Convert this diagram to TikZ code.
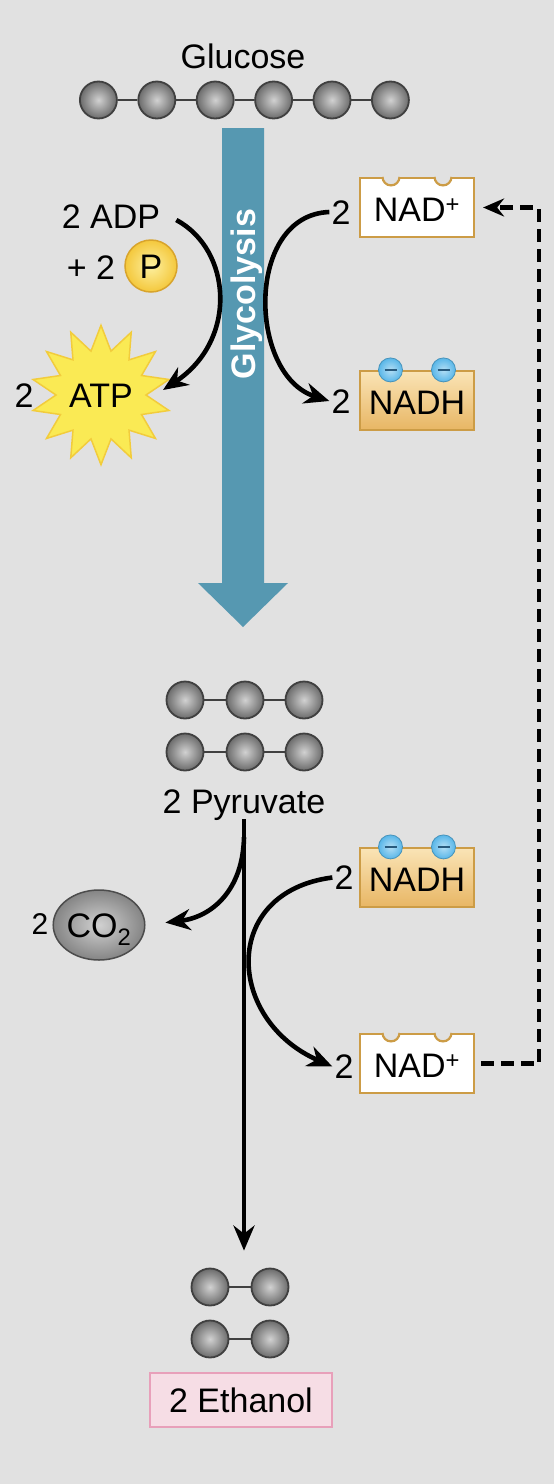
\documentclass[tikz,border=0pt]{standalone}
\usepackage{fontspec}
\setmainfont{Liberation Sans}
\usepackage{tikz}
\usetikzlibrary{shapes.geometric, arrows.meta, positioning, calc}
\definecolor{panelgrey}{RGB}{225,225,225}
\definecolor{glycblue}{RGB}{86,152,177}
\definecolor{nadgold}{RGB}{204,156,70}
\definecolor{nadhtop}{RGB}{250,228,182}
\definecolor{nadhbot}{RGB}{232,182,100}
\definecolor{elecblue}{RGB}{88,182,232}
\definecolor{elecdark}{RGB}{40,90,125}
\definecolor{atpfill}{RGB}{250,234,84}
\definecolor{atpline}{RGB}{242,204,60}
\definecolor{pinner}{RGB}{253,240,160}
\definecolor{pouter}{RGB}{244,200,60}
\definecolor{pline}{RGB}{216,164,44}
\definecolor{ethfill}{RGB}{246,221,229}
\definecolor{ethline}{RGB}{232,160,186}
\newcommand{\bigfont}{\fontsize{34}{40}\selectfont}
\newcommand{\midfont}{\fontsize{30}{36}\selectfont}
\tikzset{
  atom/.style={circle, minimum size=37pt, inner sep=0pt, draw=black!75,
    line width=1.8pt, inner color=black!18, outer color=black!58},
  bond/.style={draw=black!75, line width=2pt},
  lbl/.style={font=\bigfont, inner sep=2pt, text height=24pt, text depth=0pt},
  phos/.style={circle, minimum size=52pt, inner sep=0pt, draw=pline, line width=1.5pt,
    inner color=pinner, outer color=pouter, font=\bigfont, text height=24pt, text depth=0pt},
  atpstar/.style={star, star points=14, star point ratio=1.55, minimum size=124pt,
    inner sep=0pt, fill=atpfill, draw=atpline, line width=1.5pt,
    font=\bigfont, text height=24pt, text depth=0pt},
  nadbox/.style={rectangle, draw=nadgold, fill=white, line width=2.2pt,
    minimum width=114pt, minimum height=59pt, inner sep=0pt,
    font=\bigfont, text height=28pt, text depth=0pt},
  nadhbox/.style={nadbox, top color=nadhtop, bottom color=nadhbot},
  electron/.style={circle, minimum size=24pt, inner sep=0pt, draw=elecblue!80!black,
    line width=0.8pt, inner color=elecblue!45!white, outer color=elecblue,
    path picture={\draw[elecdark, line width=1.6pt]
      ([xshift=-6pt]path picture bounding box.center) --
      ([xshift=6pt]path picture bounding box.center);}},
  co2/.style={ellipse, minimum width=85pt, minimum height=70pt, inner sep=0pt,
    draw=black!70, line width=1.5pt, inner color=black!18, outer color=black!48,
    font=\bigfont, text height=24pt, text depth=0pt},
  ethbox/.style={rectangle, draw=ethline, fill=ethfill, line width=1.5pt,
    minimum width=182pt, minimum height=54pt, inner sep=0pt,
    font=\bigfont, text height=24pt, text depth=0pt},
  arrow/.style={line width=4.6pt, -{Stealth[length=25pt, width=21pt, inset=8pt]}},
  dasharrow/.style={line width=4.2pt, dash pattern=on 13pt off 7pt,
    -{Stealth[length=21pt, width=18pt, inset=7pt]}}
}
% notches cut in the top edge of an NAD+ box
\newcommand{\nadnotches}[1]{%
  \foreach \dx/\dl in {-26/-34.5, 26/17.5} {
    \fill[panelgrey] ([xshift=\dx pt]#1.north) circle[radius=8.5];
    \draw[nadgold, line width=2.2pt] ([xshift=\dl pt]#1.north)
      arc[start angle=180, end angle=0, radius=8.5];
  }}

\begin{document}
\begin{tikzpicture}[x=1pt, y=-1pt]
  \useasboundingbox (0,0) rectangle (554,1484);
  \fill[panelgrey] (0,0) rectangle (554,1484);

  % Glucose
  \node[lbl] (glucose) at (243,56) {Glucose};
  \foreach \i in {1,...,6}
    \node[atom] (g\i) at ({40+58.4*\i},100) {};
  \foreach \i [count=\j from 2] in {1,...,5}
    \draw[bond] (g\i) -- (g\j);

  % Glycolysis arrow
  \fill[glycblue] (222,128) -- (264,128) -- (264,583) -- (288,583)
    -- (243,627) -- (198,583) -- (222,583) -- cycle;
  \node[lbl, font=\bigfont\bfseries, text=white, rotate=90] (glyc) at (243,294) {Glycolysis};

  % ADP + P -> ATP
  \node[lbl] (adp) at (111,216) {2 ADP};
  \node[lbl] (plus) at (91,267) {+ 2};
  \node[phos] (pi) at (151,266) {P};
  \node[atpstar] (atp) at (101,395) {ATP};
  \node[lbl] (atpn) at (24,395) {2};
  \draw[arrow] ($(adp.east)+(14,4)$) .. controls (232,250) and (238,340) .. ($(atp.center)+(62,-5)$);

  % NAD+ -> NADH
  \node[nadbox] (nadA) at (417,207.5) {NAD\textsuperscript{+}};
  \nadnotches{nadA}
  \node[lbl] (nadAn) at (341,212) {2};
  \node[nadhbox] (nadhA) at (417,400.5) {NADH};
  \node[electron] (eA1) at ($(nadhA.north)+(-26.5,0)$) {};
  \node[electron] (eA2) at ($(nadhA.north)+(26.5,0)$) {};
  \node[lbl] (nadhAn) at (341,401) {2};
  \draw[arrow] (nadAn.west) .. controls (245,215) and (248,375) .. (nadhAn.west);

  % Pyruvate
  \foreach \r/\y in {1/700,2/752} {
    \foreach \i/\x in {1/185,2/245,3/304}
      \node[atom] (p\r\i) at (\x,\y) {};
    \draw[bond] (p\r1) -- (p\r2) (p\r2) -- (p\r3);
  }
  \node[lbl] (pyr) at (244,801) {2 Pyruvate};

  % CO2
  \node[co2] (co2) at (99,925) {CO\textsubscript{2}};
  \node[lbl, font=\midfont] (co2n) at (40,922) {2};
  \coordinate (split) at ($(pyr.south)+(0,22)$);
  \draw[arrow, shorten >=20pt] (split) .. controls (243,890) and (212,917) .. (co2.east);

  % NADH -> NAD+
  \node[nadhbox] (nadhB) at (417,877.5) {NADH};
  \node[electron] (eB1) at ($(nadhB.north)+(-26.5,0)$) {};
  \node[electron] (eB2) at ($(nadhB.north)+(26.5,0)$) {};
  \node[lbl] (nadhBn) at (344,877.5) {2};
  \node[nadbox] (nadB) at (417,1063.5) {NAD\textsuperscript{+}};
  \nadnotches{nadB}
  \node[lbl] (nadBn) at (344,1066.5) {2};
  \draw[arrow] (nadhBn.west) .. controls (220,892) and (226,1020) .. (nadBn.west);

  % Ethanol
  \foreach \r/\y in {1/1287,2/1339} {
    \node[atom] (e\r1) at (210,\y) {};
    \node[atom] (e\r2) at (270,\y) {};
    \draw[bond] (e\r1) -- (e\r2);
  }
  \node[ethbox] (eth) at (241,1400) {2 Ethanol};
  \draw[arrow, shorten <=4pt, shorten >=17pt] (pyr.south) -- (pyr.south |- e11.north);

  % NAD+ regenerated
  \draw[dasharrow, shorten <=6pt, shorten >=8pt] (nadB.east) -| ($(nadA.east)+(64,0)$) -- (nadA.east);
\end{tikzpicture}
\end{document}
